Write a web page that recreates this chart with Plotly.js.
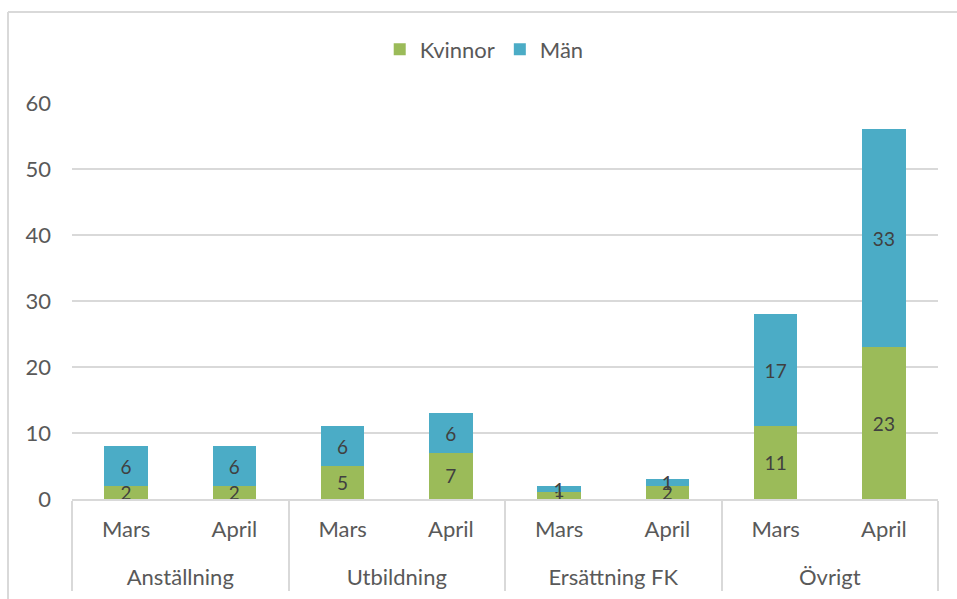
<!DOCTYPE html>
<html><head><meta charset="utf-8">
<script src="https://cdn.plot.ly/plotly-3.0.1.min.js"></script>
<style>html,body{margin:0;padding:0;background:#fff}#chart{width:957px;height:599px}</style>
</head><body><div id="chart"></div>
<script>
const groups = ["Anställning","Anställning","Utbildning","Utbildning","Ersättning FK","Ersättning FK","Övrigt","Övrigt"];
const months = ["Mars","April","Mars","April","Mars","April","Mars","April"];
const kvinnor = [2,2,5,7,1,2,11,23];
const man = [6,6,6,6,1,1,17,33];
const seriesNames = ["Kvinnor","Män"];
const yTicks = [0,10,20,30,40,50,60];

const font = "Lato, 'Open Sans', sans-serif";
const groupLabels = groups.map(g => "<br>" + g);
const common = {
  type:'bar', x:[groupLabels, months], textposition:'inside', insidetextanchor:'middle',
  constraintext:'none', textangle:0,
  textfont:{family:font, size:19, color:'#404040'}, hoverinfo:'skip'
};
const traces = [
  Object.assign({}, common, {name:seriesNames[0], y:kvinnor, text:kvinnor.map(String), marker:{color:'#9BBB59', line:{width:0}}}),
  Object.assign({}, common, {name:seriesNames[1], y:man, text:man.map(String), marker:{color:'#4BACC6', line:{width:0}}})
];
const layout = {
  width:957, height:599, barmode:'stack', bargap:0.6,
  paper_bgcolor:'#fff', plot_bgcolor:'#fff',
  margin:{l:72, r:19, t:103, b:100},
  font:{family:font, color:'#595959', size:22},
  uniformtext:{mode:'show', minsize:19},
  showlegend:true,
  legend:{orientation:'h', x:0.476, xanchor:'center', y:1.135, yanchor:'middle', font:{size:22, color:'#595959'}, traceorder:'normal', itemwidth:30},
  xaxis:{type:'multicategory', showgrid:false, showline:true, linecolor:'#D9D9D9', linewidth:2,
    showdividers:true, dividercolor:'#D9D9D9', dividerwidth:2, tickfont:{size:22, color:'#595959'}, ticks:'', ticklabelstandoff:10},
  yaxis:{range:[0,60], tickvals:yTicks, showgrid:true, gridcolor:'#D9D9D9', gridwidth:1.5, zeroline:false,
    showline:false, tickfont:{size:22, color:'#595959'}, ticklabelstandoff:20},
  shapes:[
    {type:'line', xref:'paper', yref:'paper', x0:-0.0739, x1:-0.0739, y0:-0.26, y1:1.2298, line:{color:'#D9D9D9', width:2}},
    {type:'line', xref:'paper', yref:'paper', x0:-0.0739, x1:1.03, y0:1.2298, y1:1.2298, line:{color:'#D9D9D9', width:2}}
  ]
};
Plotly.newPlot('chart', traces, layout, {displayModeBar:false, staticPlot:true});
</script></body></html>
